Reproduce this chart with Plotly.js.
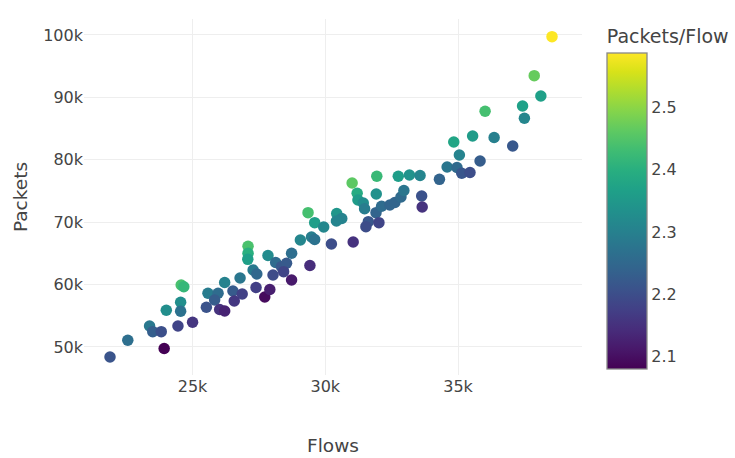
<!DOCTYPE html>
<html>
<head>
<meta charset="utf-8">
<script src="https://cdn.plot.ly/plotly-3.0.1.min.js"></script>
<style>html,body{margin:0;padding:0;background:#fff;}#chart{width:735px;height:458px;}</style>
</head>
<body>
<div id="chart"></div>
<script>
var flows = [21890, 22560, 23380, 23500, 23820, 23930, 24010, 24450, 24550, 24550,
  24570, 24670, 25000, 25520, 25580, 25960, 25830, 26020, 26210, 26210,
  26520, 26870, 26570, 26790, 27090, 27090, 27080, 27280, 27420, 27390,
  27720, 27910, 27840, 28130, 28350, 28540, 28730, 28030, 28430, 28730,
  29060, 29480, 29600, 29420, 29350, 29600, 29940, 30230, 31050, 30430,
  30620, 30420, 31010, 31940, 31200, 31230, 31430, 31480, 31920, 31910,
  32120, 32430, 32620, 32850, 32960, 31620, 31530, 32020, 32750, 33170,
  33570, 33630, 33650, 34300, 34590, 34960, 35140, 35450, 35830, 35050,
  34840, 35550, 36020, 36360, 37060, 37430, 37500, 37870, 38120, 38540];
var packets = [48400, 51070, 53360, 52450, 52450, 49760, 55880, 53360, 57160, 55720,
  59940, 59660, 53960, 56360, 58610, 58610, 57530, 56010, 55770, 60340,
  58970, 58490, 57370, 61060, 66140, 65020, 64050, 62340, 61700, 59530,
  58010, 59210, 64660, 63540, 62870, 63410, 65020, 61540, 62070, 60740,
  67150, 67630, 67230, 63060, 71520, 69920, 69230, 66510, 66830, 71390,
  70590, 70190, 76280, 77360, 74630, 73560, 73080, 72160, 74520, 71520,
  72550, 72760, 73160, 74040, 75080, 70080, 69280, 69920, 77360, 77560,
  77480, 74200, 72440, 76870, 78850, 78770, 77840, 77960, 79810, 80770,
  82850, 83810, 87770, 83570, 82210, 88620, 86650, 93480, 90220, 99730];
var ratio = packets.map(function (p, i) { return p / flows[i]; });

var xTickVals = [25000, 30000, 35000];
var xTickText = ['25k', '30k', '35k'];
var yTickVals = [50000, 60000, 70000, 80000, 90000, 100000];
var yTickText = ['50k', '60k', '70k', '80k', '90k', '100k'];

var font = 'DejaVu Sans, Verdana, sans-serif';

var trace = {
  type: 'scatter',
  mode: 'markers',
  x: flows,
  y: packets,
  marker: {
    size: 11.5,
    color: ratio,
    colorscale: 'Viridis',
    showscale: true,
    colorbar: {
      title: {text: 'Packets/Flow', side: 'top', font: {size: 19, color: '#444', family: font}},
      thickness: 40,
      outlinewidth: 1.3,
      outlinecolor: '#888',
      lenmode: 'pixels',
      len: 343,
      x: 1.031,
      xanchor: 'left',
      xpad: 10,
      y: 0.98,
      yanchor: 'top',
      ypad: 0,
      tickvals: [2.1, 2.2, 2.3, 2.4, 2.5],
      ticktext: ['2.1', '2.2', '2.3', '2.4', '2.5'],
      tickfont: {size: 16, color: '#444', family: font},
      ticks: ''
    }
  },
  hoverinfo: 'x+y'
};

var layout = {
  width: 735,
  height: 458,
  margin: {l: 84, r: 153, t: 19, b: 83, autoexpand: false},
  paper_bgcolor: '#fff',
  plot_bgcolor: '#fff',
  font: {family: font, color: '#444', size: 16},
  showlegend: false,
  xaxis: {
    range: [20910, 39670],
    tickvals: xTickVals,
    ticktext: xTickText,
    showgrid: true,
    gridcolor: '#eee',
    gridwidth: 1,
    zeroline: false,
    showline: false,
    automargin: false,
    tickfont: {size: 16, color: '#444'},
    title: {text: 'Flows', font: {size: 18.5, color: '#444'}, standoff: 44}
  },
  yaxis: {
    range: [45510, 102560],
    tickvals: yTickVals,
    ticktext: yTickText,
    showgrid: true,
    gridcolor: '#eee',
    gridwidth: 1,
    zeroline: false,
    showline: false,
    automargin: false,
    tickfont: {size: 16, color: '#444'},
    title: {text: 'Packets', font: {size: 18.5, color: '#444'}, standoff: 10}
  }
};

Plotly.newPlot('chart', [trace], layout, {displayModeBar: false, staticPlot: true});
</script>
</body>
</html>
